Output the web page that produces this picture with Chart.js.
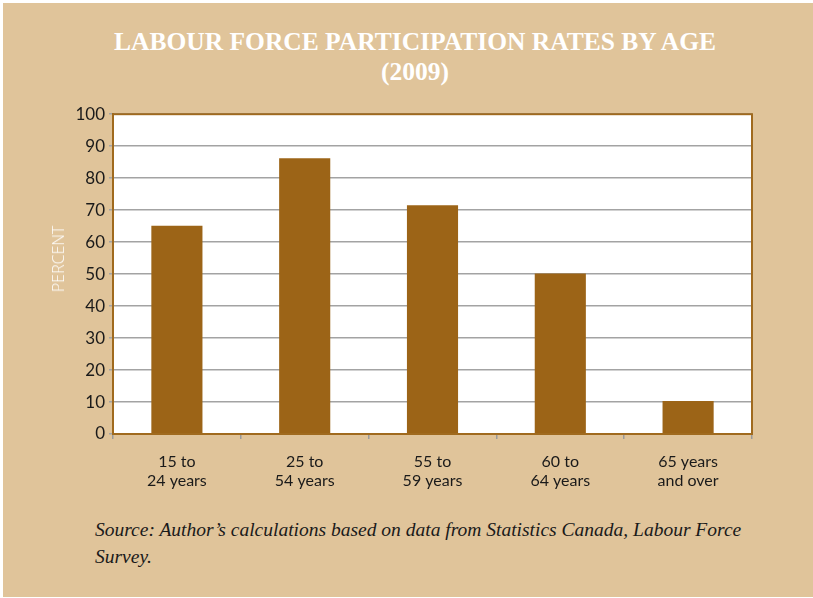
<!DOCTYPE html>
<html>
<head>
<meta charset="utf-8">
<script src="https://cdn.jsdelivr.net/npm/chart.js@4"></script>
<style>
  html, body { margin: 0; padding: 0; background: #fff; }
  #panel { position: absolute; left: 3px; top: 3px; width: 810px; height: 594px; background: #e0c49a; }
  #title { position: absolute; left: 0; top: 27px; width: 830px; text-align: center; color: #fff;
    font-family: "Liberation Serif", serif; font-weight: bold; font-size: 25.5px; line-height: 30px; }
  #wrap { position: absolute; left: 0; top: 100px; width: 813px; height: 410px; }
  #ylabel { position: absolute; left: 58px; top: 259px; transform: translate(-50%, -50%) rotate(-90deg);
    color: #fff; font-family: "Open Sans", sans-serif; font-weight: 300; font-size: 16px; white-space: nowrap; }
  #source { position: absolute; left: 95px; top: 516px; width: 700px; color: #1a1a1a;
    font-family: "Liberation Serif", serif; font-style: italic; font-size: 19.5px; line-height: 27px; }
</style>
</head>
<body>
<div id="panel"></div>
<div id="title">LABOUR FORCE PARTICIPATION RATES BY AGE<br>(2009)</div>
<div id="wrap"><canvas id="canvas"></canvas></div>
<div id="ylabel">PERCENT</div>
<div id="source">Source: Author’s calculations based on data from Statistics Canada, Labour Force<br>Survey.</div>
<script>
const ageGroups = [["15 to", "24 years"], ["25 to", "54 years"], ["55 to", "59 years"], ["60 to", "64 years"], ["65 years", "and over"]]
const rates = [65.1, 86.2, 71.5, 50.2, 10.3]
const yTicks = [0, 10, 20, 30, 40, 50, 60, 70, 80, 90, 100]

const brown = '#a06a1e'

// white plot area plus a frame round it (top and right sides too)
const frame = {
  id: 'frame',
  beforeDraw(chart) {
    const a = chart.chartArea
    chart.ctx.save()
    chart.ctx.fillStyle = '#fff'
    chart.ctx.fillRect(a.left, a.top, a.right - a.left, a.bottom - a.top)
    chart.ctx.restore()
  },
  afterDatasetsDraw(chart) {
    const a = chart.chartArea
    const ctx = chart.ctx
    ctx.save()
    ctx.strokeStyle = brown
    ctx.lineWidth = 2
    ctx.strokeRect(a.left, a.top, a.right - a.left, a.bottom - a.top)
    ctx.restore()
  }
}

const ctx = document.getElementById('canvas')
new Chart(ctx, {
  type: 'bar',
  data: {
    labels: ageGroups,
    datasets: [{
      data: rates,
      backgroundColor: '#9c6417',
      borderWidth: 0,
      categoryPercentage: 1,
      barPercentage: 0.4
    }]
  },
  plugins: [frame],
  options: {
    responsive: true,
    maintainAspectRatio: false,
    animation: false,
    layout: { padding: { left: 0, right: 61, top: 13, bottom: 0 } },
    plugins: { legend: { display: false }, tooltip: { enabled: false } },
    scales: {
      x: {
        afterFit(scale) { scale.height = 76 },
        grid: { drawOnChartArea: false, drawTicks: true, tickLength: 5, color: '#9a9a9a', lineWidth: 1.5, offset: true },
        border: { color: brown, width: 2 },
        ticks: { color: '#1a1a1a', padding: 13, font: { family: 'Lato', size: 16 } }
      },
      y: {
        min: 0,
        max: 100,
        afterFit(scale) { scale.width = 113 },
        afterBuildTicks(scale) { scale.ticks = yTicks.map(v => ({ value: v })) },
        grid: { color: '#a3a3a3', lineWidth: 1.5, tickLength: 4 },
        border: { color: brown, width: 2 },
        ticks: { color: '#1a1a1a', padding: 4, font: { family: 'Lato', size: 17 } }
      }
    }
  }
})
</script>
</body>
</html>
